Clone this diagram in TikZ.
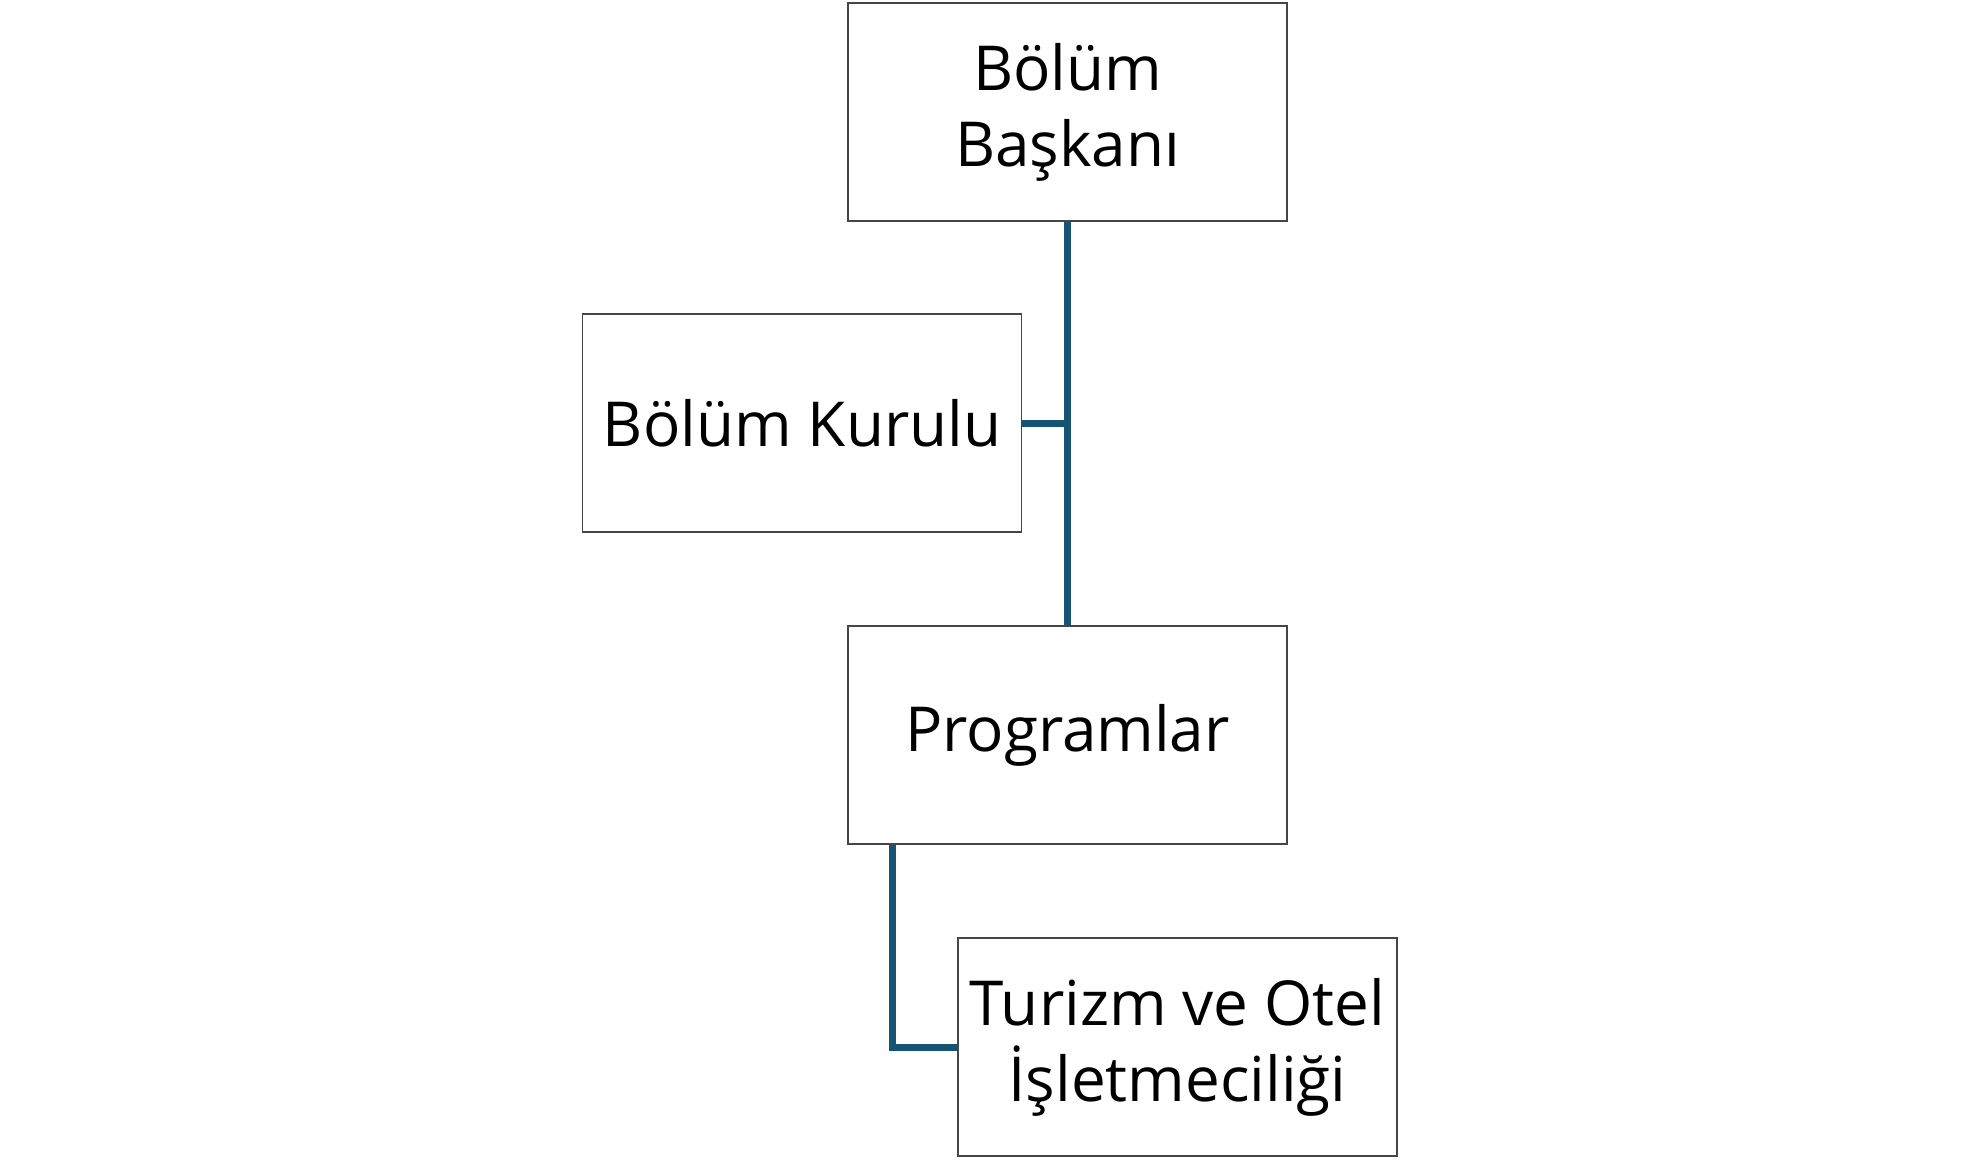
\documentclass[tikz,border=0pt]{standalone}
\usepackage{fontspec}
\setmainfont{Open Sans}
\definecolor{conn}{RGB}{21,85,115}
\definecolor{boxline}{RGB}{70,70,70}
\begin{document}
\begin{tikzpicture}[x=0.5pt,y=-0.5pt,
  orgbox/.style={draw=boxline,line width=0.7pt,fill=white,minimum width=219.5pt,minimum height=109pt,
    inner sep=0pt,align=center,font=\fontsize{31pt}{38pt}\selectfont},
  link/.style={draw=conn,line width=3.5pt}]
\useasboundingbox (0,0) rectangle (1980,1164);
\node[orgbox] (bb) at (1067.5,112) {Bölüm\\Başkanı};
\node[orgbox] (bk) at (802,423) {Bölüm Kurulu};
\node[orgbox] (pr) at (1067.5,735) {Programlar};
\node[orgbox] (to) at (1177.5,1047) {Turizm ve Otel\\İşletmeciliği};
\draw[link] (bb.south) -- (pr.north);
\draw[link] (bk.east) -- (bk.east -| bb.south);
\draw[link] ([xshift=22.5pt]pr.south west) |- (to.west);
\end{tikzpicture}
\end{document}
